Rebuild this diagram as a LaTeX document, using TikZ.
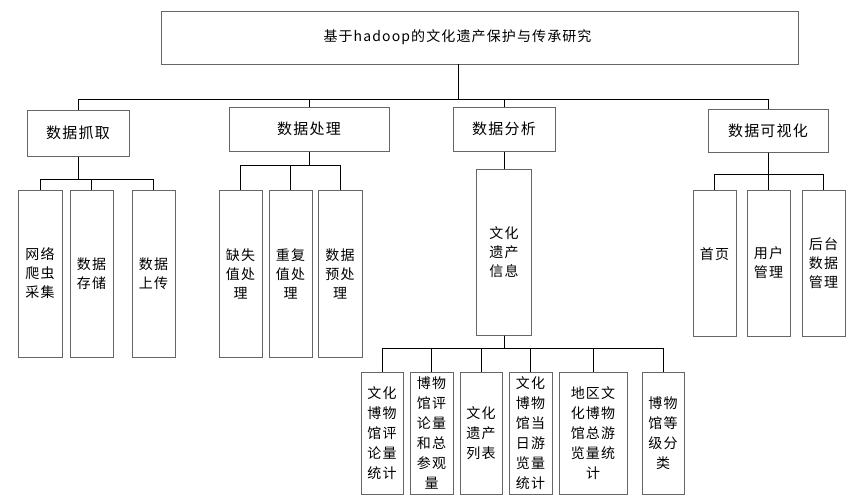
\documentclass[tikz,border=0pt]{standalone}
\usepackage{fontspec}
\setmainfont{Noto Sans CJK SC}[LetterSpace=8]
\usepackage{tikz}
\tikzstyle{box} = [rectangle, draw=black!60, line width=1pt, inner sep=0pt, align=center, font=\fontsize{15}{19}\selectfont]
\tikzstyle{leaf} = [box, font=\fontsize{14}{19}\selectfont]
\tikzstyle{low} = [box, font=\fontsize{14}{20}\selectfont]
\tikzstyle{line} = [black, line width=0.8pt]

\begin{document}
\begin{tikzpicture}[x=1pt, y=-1pt]
\useasboundingbox (0,0) rectangle (868,496);

\node (top) [box, minimum width=637pt, minimum height=53pt, font=\fontsize{14}{18}\selectfont] at (479.5,37.5) {基于hadoop的文化遗产保护与传承研究\hspace*{44pt}};
\coordinate (topc) at (458,64);

\node (grab) [box, minimum width=102pt, minimum height=46pt] at (78,133) {数据抓取};
\node (proc) [box, minimum width=160pt, minimum height=44pt] at (309,129) {数据处理};
\node (anal) [box, minimum width=102pt, minimum height=44pt] at (504,129) {数据分析};
\node (vis) [box, minimum width=120pt, minimum height=43pt] at (768,130.5) {数据可视化};

\node (crawl) [leaf, minimum width=44pt, minimum height=167pt] at (40,273.5) {网络\\爬虫\\采集};
\node (store) [leaf, minimum width=43pt, minimum height=167pt] at (91.5,273.5) {数据\\存储};
\node (upload) [leaf, minimum width=43pt, minimum height=167pt] at (153.5,273.5) {数据\\上传};

\node (miss) [leaf, minimum width=43pt, minimum height=167pt] at (240.5,273.5) {缺失\\值处\\理};
\node (dup) [leaf, minimum width=43pt, minimum height=167pt] at (290.5,273.5) {重复\\值处\\理};
\node (pre) [leaf, minimum width=44pt, minimum height=167pt] at (340,273.5) {数据\\预处\\理};

\node (info) [leaf, minimum width=55pt, minimum height=166pt] at (504,252) {文化\\遗产\\信息};

\node (home) [leaf, minimum width=43pt, minimum height=146pt] at (714.5,263) {首页\\ \mbox{}};
\node (user) [leaf, minimum width=43pt, minimum height=146pt] at (768.5,263) {用户\\管理};
\node (admin) [leaf, minimum width=43pt, minimum height=146pt] at (823.5,263) {后台\\数据\\管理};

\node (cmt) [low, minimum width=42pt, minimum height=122pt] at (382,433) {文化\\博物\\馆评\\论量\\统计};
\node (visit) [low, minimum width=43pt, minimum height=122pt] at (431.5,433) {博物\\馆评\\论量\\和总\\参观\\量};
\node (list) [low, minimum width=42pt, minimum height=122pt] at (481,433) {文化\\遗产\\列表};
\node (daily) [low, minimum width=43pt, minimum height=122pt] at (530.5,433) {文化\\博物\\馆当\\日游\\览量\\统计};
\node (region) [low, minimum width=68pt, minimum height=122pt] at (593,433) {地区文\\化博物\\馆总游\\览量统\\计};
\node (level) [low, minimum width=42pt, minimum height=122pt] at (663,433) {博物\\馆等\\级分\\类};

\coordinate (bus0) at (0,99);
\coordinate (bus1) at (0,179);
\coordinate (bus2) at (0,165);
\coordinate (bus3) at (0,174);
\coordinate (bus4) at (0,348);

\draw [line] (topc) -- (topc |- bus0) -| (grab.north);
\draw [line] (topc) -- (topc |- bus0) -| (proc.north);
\draw [line] (topc) -- (topc |- bus0) -| (anal.north);
\draw [line] (topc) -- (topc |- bus0) -| (vis.north);

\draw [line] (grab.south) -- (grab.south |- bus1) -| (crawl.north);
\draw [line] (grab.south) -- (grab.south |- bus1) -| (store.north);
\draw [line] (grab.south) -- (grab.south |- bus1) -| (upload.north);

\draw [line] (proc.south) -- (proc.south |- bus2) -| (miss.north);
\draw [line] (proc.south) -- (proc.south |- bus2) -| (dup.north);
\draw [line] (proc.south) -- (proc.south |- bus2) -| (pre.north);

\draw [line] (anal.south) -- (info.north);

\draw [line] (vis.south) -- (vis.south |- bus3) -| (home.north);
\draw [line] (vis.south) -- (vis.south |- bus3) -| (user.north);
\draw [line] (vis.south) -- (vis.south |- bus3) -| (admin.north);

\draw [line] (info.south) -- (info.south |- bus4) -| (cmt.north);
\draw [line] (info.south) -- (info.south |- bus4) -| (visit.north);
\draw [line] (info.south) -- (info.south |- bus4) -| (list.north);
\draw [line] (info.south) -- (info.south |- bus4) -| (daily.north);
\draw [line] (info.south) -- (info.south |- bus4) -| (region.north);
\draw [line] (info.south) -- (info.south |- bus4) -| (level.north);
\end{tikzpicture}
\end{document}
